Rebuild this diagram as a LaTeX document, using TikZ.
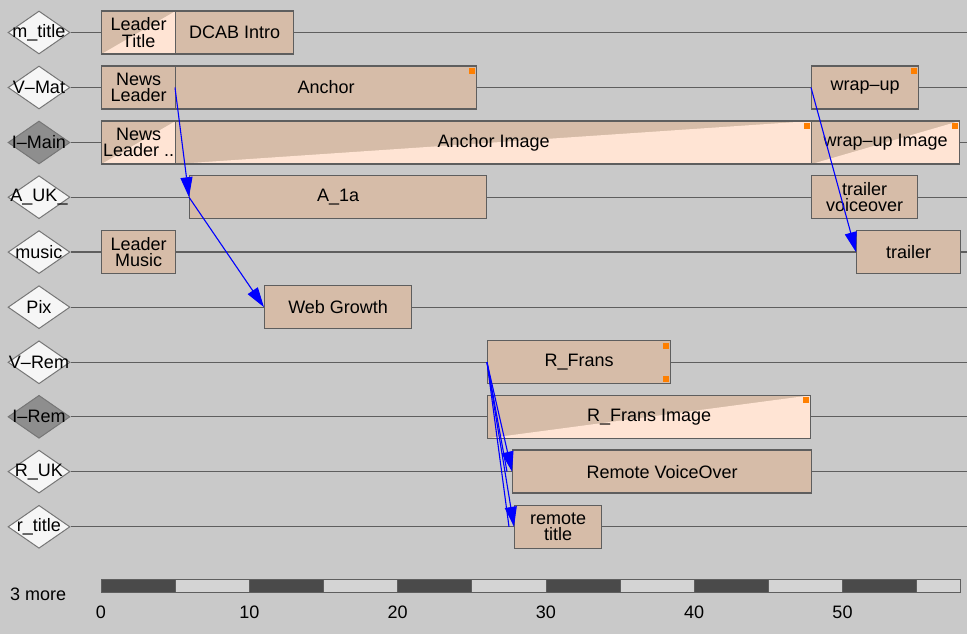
\documentclass[tikz,border=0pt]{standalone}
\usepackage{fontspec}
\setmainfont{Liberation Sans}
\usetikzlibrary{shapes.geometric,arrows.meta}

\definecolor{canvas}{HTML}{C9C9C9}
\definecolor{clipfill}{HTML}{D6BCA8}
\definecolor{fadefill}{HTML}{FFE4D4}
\definecolor{edge}{HTML}{5E5E5E}
\definecolor{tagfill}{HTML}{F6F6F6}
\definecolor{tagdark}{HTML}{8E8E8E}
\definecolor{marker}{HTML}{FF7F00}
\definecolor{linkblue}{HTML}{0000FF}
\definecolor{rulerdark}{HTML}{4A4A4A}
\definecolor{rulerlight}{HTML}{D4D4D4}

\newcommand\lanefont{\fontsize{18}{16.5}\selectfont}

\begin{document}
\begin{tikzpicture}[x=1pt,y=-1pt,
  every label/.style={font=\lanefont,inner sep=0pt},
  lane/.style={draw=edge,line width=1.3pt},
  tag/.style={diamond,draw=edge!85,fill=tagfill,line width=1pt,
    minimum width=62pt,minimum height=43pt,inner sep=0pt},
  tagdim/.style={tag,fill=tagdark},
  seg/.style={rectangle,draw=edge,fill=clipfill,line width=1.3pt,
    minimum height=43pt,inner sep=0pt,align=center,font=\lanefont,anchor=west},
  faded/.style={path picture={
    \fill[fadefill] (path picture bounding box.south west)
      -- (path picture bounding box.south east)
      -- (path picture bounding box.north east) -- cycle;}},
  marked/.style={path picture={
    \fill[marker] ([shift={(-8pt,-2pt)}]path picture bounding box.north east)
      rectangle ([shift={(-2pt,-8pt)}]path picture bounding box.north east);}},
  fadedmarked/.style={path picture={
    \fill[fadefill] (path picture bounding box.south west)
      -- (path picture bounding box.south east)
      -- (path picture bounding box.north east) -- cycle;
    \fill[marker] ([shift={(-8pt,-2pt)}]path picture bounding box.north east)
      rectangle ([shift={(-2pt,-8pt)}]path picture bounding box.north east);}},
  doublemarked/.style={path picture={
    \fill[marker] ([shift={(-8pt,-2pt)}]path picture bounding box.north east)
      rectangle ([shift={(-2pt,-8pt)}]path picture bounding box.north east);
    \fill[marker] ([shift={(-8pt,2pt)}]path picture bounding box.south east)
      rectangle ([shift={(-2pt,8pt)}]path picture bounding box.south east);}},
  link/.style={draw=linkblue,line width=1.1pt,-{Triangle[length=20pt,width=12pt]}},
  linkpair/.style={draw=linkblue,line width=1.1pt},
  rulerseg/.style={draw=edge,line width=0.8pt},
  ticklabel/.style={font=\lanefont,inner sep=0pt}
]

% canvas
\fill[canvas] (0,0) rectangle (967,634);
\useasboundingbox (0,0) rectangle (967,634);

% track tags
\node[tag,label=center:m\_title]    (t0) at (39,32.5)  {};
\node[tag,label=center:V–Mat]       (t1) at (39,87.5)  {};
\node[tagdim,label=center:I–Main]   (t2) at (39,142.5) {};
\node[tag,label=center:A\_UK\_]     (t3) at (39,197.2) {};
\node[tag,label=center:music]       (t4) at (39,252.1) {};
\node[tag,label=center:Pix]         (t5) at (39,307.2) {};
\node[tag,label=center:V–Rem]       (t6) at (39,362.3) {};
\node[tagdim,label=center:I–Rem]    (t7) at (39,416.8) {};
\node[tag,label=center:R\_UK]       (t8) at (39,471.6) {};
\node[tag,label=center:r\_title]    (t9) at (39,526.8) {};

% track lines
\coordinate (e0) at (967,32.5);
\coordinate (e1) at (967,87.5);
\coordinate (e2) at (967,142.5);
\coordinate (e3) at (967,197.2);
\coordinate (e4) at (967,252.1);
\coordinate (e5) at (967,307.2);
\coordinate (e6) at (967,362.3);
\coordinate (e7) at (967,416.8);
\coordinate (e8) at (967,471.6);
\coordinate (e9) at (967,526.8);
\foreach \i in {0,...,9} \draw[lane] (t\i.east) -- (e\i);

% clips on the tracks
\node[seg,faded,minimum width=74pt]  (ltitle) at (101,32.5) {Leader\\Title};
\node[seg,minimum width=118pt]       (dcab)   at (175,32.5) {DCAB Intro};

\node[seg,minimum width=74pt]         (nlv)    at (101,87.5) {News\\Leader};
\node[seg,marked,minimum width=301pt] (anchor) at (175,87.5) {Anchor};
\node[seg,marked,minimum width=107pt] (wrap)   at (811,87.5) {wrap–up};

\node[seg,faded,minimum width=74pt]        (nli)    at (101,142.5) {News\\Leader ..};
\node[seg,fadedmarked,minimum width=636pt] (aimg)   at (175,142.5) {Anchor Image};
\node[seg,fadedmarked,minimum width=148pt] (wimg)   at (811,142.5) {wrap–up Image};

\node[seg,minimum width=297pt] (a1a)  at (189,197.2) {A\_1a};
\node[seg,minimum width=106pt] (tvo)  at (811,197.2) {trailer\\voiceover};

\node[seg,minimum width=74pt]  (lmus)    at (101,252.1) {Leader\\Music};
\node[seg,minimum width=104pt] (trailer) at (856,252.1) {trailer};

\node[seg,minimum width=147pt] (web) at (264,307.2) {Web Growth};

\node[seg,doublemarked,minimum width=183pt] (rf)    at (487,362.3) {R\_Frans};
\node[seg,fadedmarked,minimum width=323pt]  (rfimg) at (487,416.8) {R\_Frans Image};
\node[seg,minimum width=299pt]              (rvo)   at (512,471.6) {Remote VoiceOver};
\node[seg,minimum width=87pt]               (rtit)  at (514,526.8) {remote\\title};

% sync links
\draw[link] (anchor.west) -- (a1a.west);
\draw[link] (a1a.west) -- (web.west);
\draw[link] (wrap.west) -- (trailer.west);
\draw[linkpair] (rf.west) -- ([xshift=-5pt]rvo.west);
\draw[linkpair] (rf.west) -- ([xshift=-5pt]rtit.west);
\draw[link] (rf.west) -- (rvo.west);
\draw[link] (rf.west) -- (rtit.west);

% time ruler
\foreach \k in {0,2,4,6,8,10}
  \filldraw[rulerseg,fill=rulerdark] ({101+14.83*5*\k},579) rectangle ({101+14.83*5*(\k+1)},592);
\foreach \k in {1,3,5,7,9}
  \filldraw[rulerseg,fill=rulerlight] ({101+14.83*5*\k},579) rectangle ({101+14.83*5*(\k+1)},592);
\filldraw[rulerseg,fill=rulerlight] ({101+14.83*55},579) rectangle (960,592);
\foreach \v [count=\n from 0] in {0,10,20,30,40,50}
  \node[ticklabel] (tick\n) at ({101+14.83*\v},612) {\v};
\node[ticklabel,anchor=west] (more) at (10,594) {3 more};

\end{tikzpicture}
\end{document}
